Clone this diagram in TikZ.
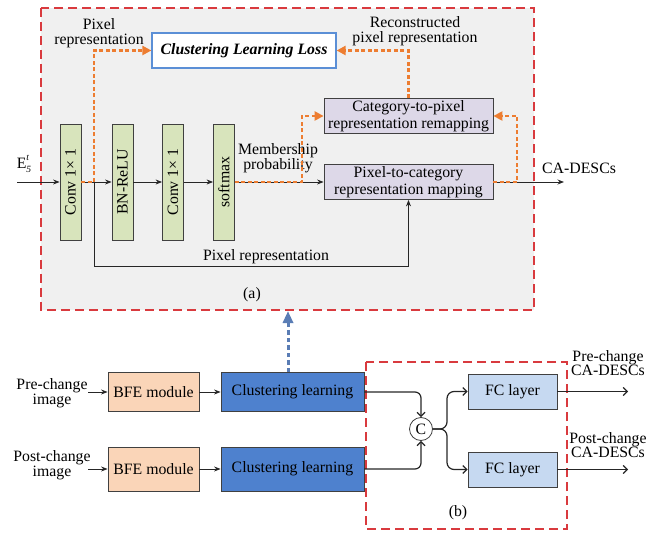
\documentclass[tikz,border=0pt]{standalone}
\usepackage{fontspec}
\setmainfont{Liberation Serif}
\usetikzlibrary{arrows.meta,calc}

\definecolor{bggray}{HTML}{F0F0F0}
\definecolor{reddash}{HTML}{D93A3E}
\definecolor{orangeC}{HTML}{ED7D31}
\definecolor{lossblue}{HTML}{5B8FD6}
\definecolor{convgreen}{HTML}{D8E4BC}
\definecolor{lav}{HTML}{DDD8E8}
\definecolor{peach}{HTML}{FAD5B8}
\definecolor{clblue}{HTML}{4E81CE}
\definecolor{fcblue}{HTML}{C6D9F1}
\definecolor{upblue}{HTML}{5A7DB5}
\definecolor{edgegray}{HTML}{404040}

\newcommand{\figfont}{\fontsize{15.8}{14.5}\selectfont}
\newcommand{\scriptfnt}{\fontsize{9.5}{9.5}\selectfont\itshape}

\begin{document}
\begin{tikzpicture}[x=1pt,y=-1pt,font=\figfont,
  blk/.style={draw=edgegray, line width=0.8pt, inner sep=0pt, align=center},
  convbox/.style={blk, fill=convgreen, minimum width=21pt, minimum height=116pt},
  lavbox/.style={blk, fill=lav, minimum width=169pt, minimum height=35pt},
  bfebox/.style={blk, fill=peach, minimum width=91pt},
  clbox/.style={blk, fill=clblue, minimum width=143pt},
  fcbox/.style={blk, fill=fcblue, minimum width=89pt, minimum height=35pt},
  lbl/.style={inner sep=0pt, align=center},
  arr/.style={draw=black!85, line width=0.9pt, -{Stealth[length=6.5pt,width=5pt]}},
  orangeflow/.style={draw=orangeC, line width=2.3pt, dash pattern=on 4pt off 2.5pt,
    -{Triangle[length=9pt,width=9pt]}},
  barb/.style={draw=black!85, line width=1.2pt, -{Straight Barb[length=4pt,width=8pt]}},
  framebox/.style={draw=reddash, line width=1.4pt, dash pattern=on 9pt off 5pt}
]
\useasboundingbox (0,0) rectangle (666,534);

% ---------- module (a) ----------
\fill[bggray] (41,8) rectangle (534,310);
\draw[framebox] (41,8) rectangle (534,310);

\node[blk, draw=lossblue, line width=1.2pt, fill=white, minimum width=184pt, minimum height=35pt]
  (loss) at (244,50.5) {\textbf{\textit{Clustering Learning Loss}}};

\node[convbox] (conv1) at (70.5,182) {\rotatebox{90}{Conv 1× 1}};
\node[convbox] (bn)    at (122.5,182) {\rotatebox{90}{BN-ReLU}};
\node[convbox] (conv2) at (173,182) {\rotatebox{90}{Conv 1× 1}};
\node[convbox] (soft)  at (224,182) {\rotatebox{90}{softmax}};

\node[lavbox] (c2p) at (408.5,116) {Category-to-pixel\\[2.5pt]representation remapping};
\node[lavbox] (p2c) at (408.5,182) {Pixel-to-category\\[2.5pt]representation mapping};

\coordinate (ein) at (17,182);
\coordinate (br) at (94,182);
\coordinate (mp) at (302,182);
\coordinate (rp) at (517,182);
\coordinate (aout) at (564,182);
\coordinate (low) at (94,266);

% input feature E with subscript 5 and superscript t
\node[lbl] (elbl) at (24,164)
  {E\rlap{\raisebox{7.5pt}{\scriptfnt t}}\raisebox{-4.5pt}{\scriptfnt 5}};
\node[lbl] (pixtop) at (99,33) {Pixel\\representation};
\node[lbl] (recon) at (415,31) {Reconstructed\\pixel representation};
\node[lbl] (memb) at (278,158) {Membership\\probability};
\node[lbl, anchor=west] (cadesc) at (542,168) {CA-DESCs};
\node[lbl] (pixbot) at (266,257) {Pixel representation};
\node[lbl] (alab) at (252,295) {(a)};

% black data flow
\draw[arr] (ein) -- (conv1.west);
\draw[arr] (conv1.east) -- (bn.west);
\draw[arr] (bn.east) -- (conv2.west);
\draw[arr] (conv2.east) -- (soft.west);
\draw[arr] (soft.east) -- (p2c.west);
\draw[arr] (p2c.east) -- (aout);
\draw[arr] (br) -- (low) -| (p2c.south);

% orange dashed loss / remapping flow
\draw[orangeflow] (conv1.east) -- (br) |- (loss.west);
\draw[orangeflow] (soft.east) -- (mp) |- (c2p.west);
\draw[orangeflow] (p2c.east) -- (rp) |- (c2p.east);
\draw[orangeflow] (c2p.north) |- (loss.east);

% ---------- lower pipeline ----------
\node[lbl] (pre) at (52,393) {Pre-change\\image};
\node[lbl] (post) at (52,465) {Post-change\\image};

\node[bfebox, minimum height=39pt] (bfe1) at (153.5,392) {BFE module};
\node[bfebox, minimum height=44pt] (bfe2) at (153.5,469) {BFE module};
\node[clbox, minimum height=39pt] (cl1) at (292.5,392) {Clustering learning};
\node[clbox, minimum height=44pt] (cl2) at (292.5,469) {Clustering learning};

\draw[arr] (88,392) -- (bfe1.west);
\draw[arr] (88,469) -- (bfe2.west);
\draw[arr] (bfe1.east) -- (cl1.west);
\draw[arr] (bfe2.east) -- (cl2.west);

% link from clustering learning to module (a)
\coordinate (uptip) at (288,311);
\draw[draw=upblue, line width=3pt, dash pattern=on 4.5pt off 3pt,
  -{Triangle[length=12pt,width=10pt]}] (uptip |- cl1.north) -- (uptip);

% ---------- module (b) ----------
\draw[framebox] (366,362) rectangle (567,529);

\node[circle, draw=edgegray, line width=0.8pt, fill=white, minimum size=23pt, inner sep=0pt]
  (cc) at (421,429) {C};
\node[fcbox] (fc1) at (512.5,391.5) {FC layer};
\node[fcbox] (fc2) at (512.5,469.5) {FC layer};

\coordinate (split) at (447,429);
\coordinate (o1) at (628,391.5);
\coordinate (o2) at (628,469.5);

\draw[barb, rounded corners=6pt] (cl1.east) -| (cc.north);
\draw[barb, rounded corners=6pt] (cl2.east) -| (cc.south);
\draw[barb, rounded corners=7pt] (cc.east) -- (split) |- (fc1.west);
\draw[barb, rounded corners=7pt] (cc.east) -- (split) |- (fc2.west);
\draw[barb] (fc1.east) -- (o1);
\draw[barb] (fc2.east) -- (o2);

\node[lbl] (prelbl) at (608,363) {Pre-change\\CA-DESCs};
\node[lbl] (postlbl) at (608,445) {Post-change\\CA-DESCs};
\node[lbl] (blab) at (458,513) {(b)};
\end{tikzpicture}
\end{document}
